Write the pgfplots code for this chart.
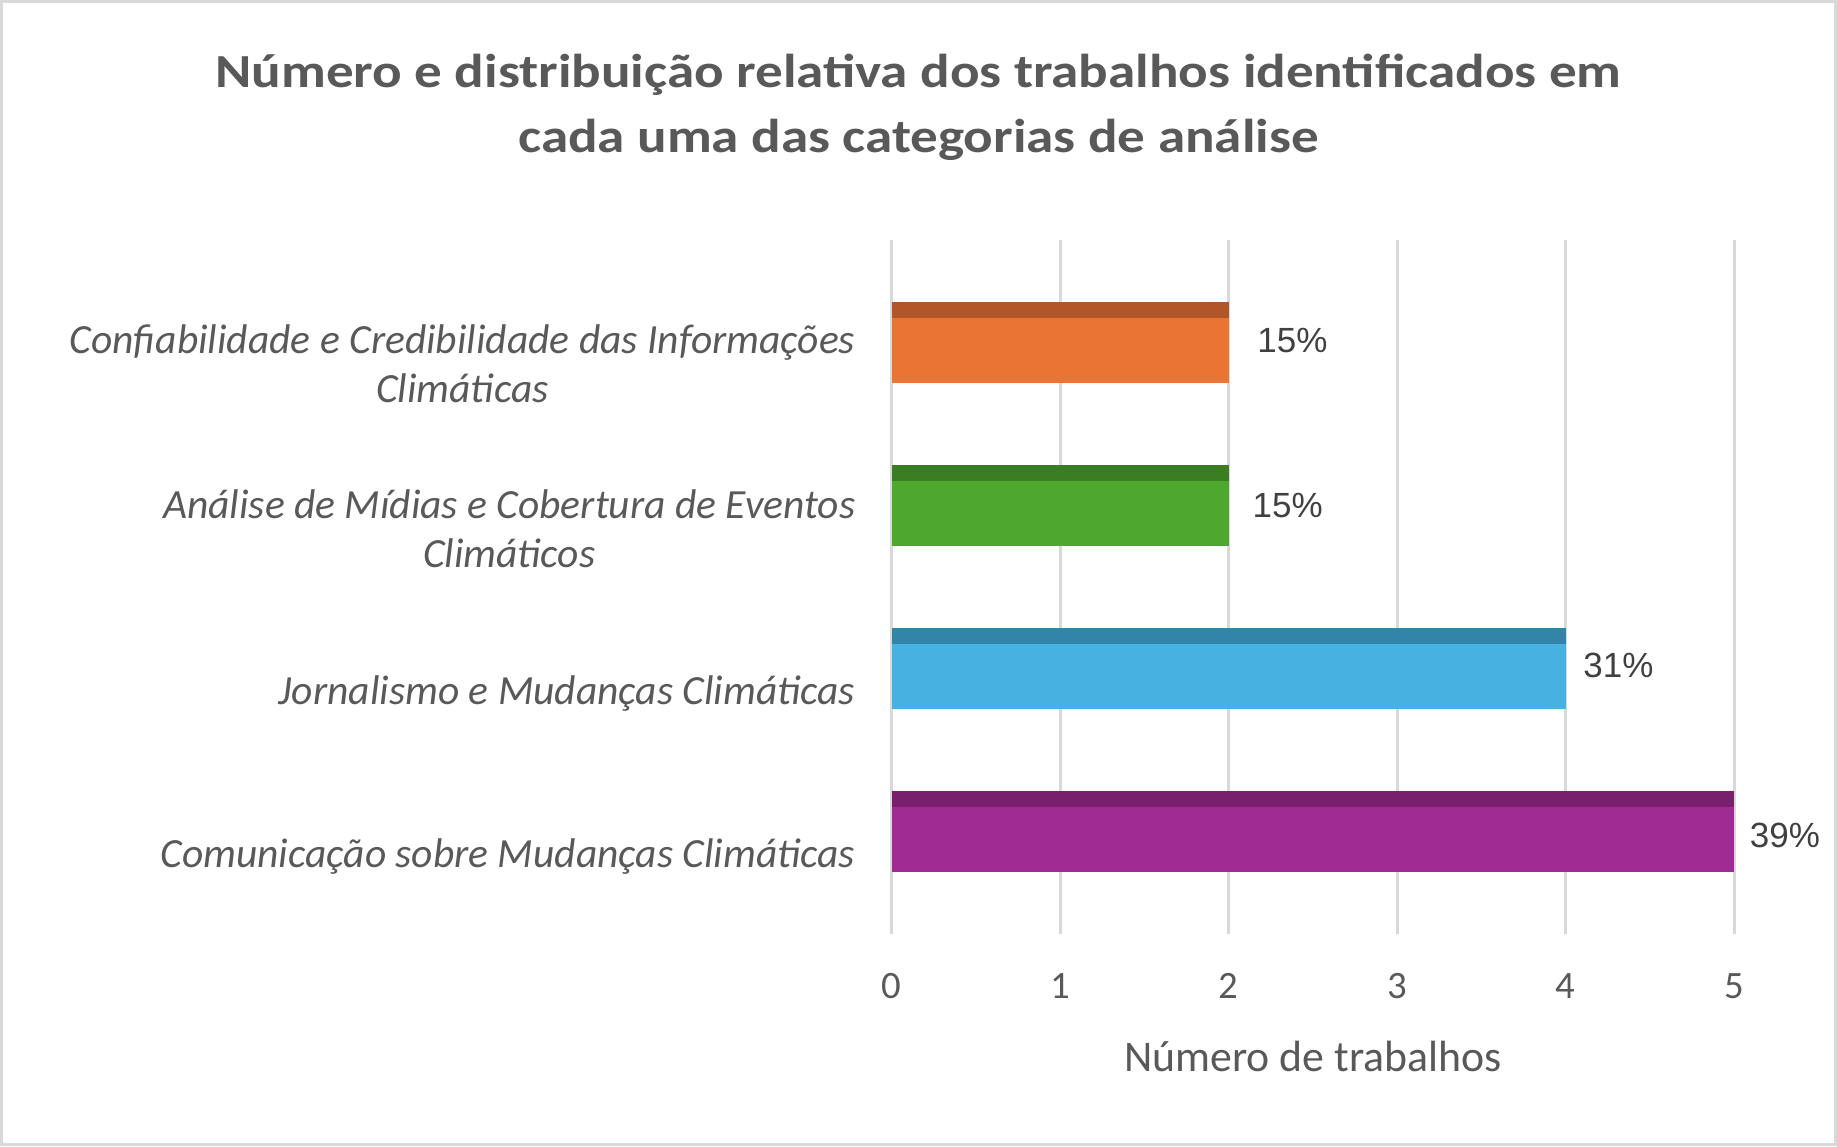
\documentclass[border=0pt]{standalone}
\usepackage{pgfplots}
\pgfplotsset{compat=1.18}
\usepackage{graphicx}
\usepackage{fontspec}
\setmainfont{Carlito}
\newfontfamily\arialf{Liberation Sans}
\definecolor{txt}{HTML}{595959}
\definecolor{lbl}{HTML}{404040}
\definecolor{gridc}{HTML}{D9D9D9}
\definecolor{orL}{HTML}{E97434}
\definecolor{orD}{HTML}{B05628}
\definecolor{grL}{HTML}{4EA72E}
\definecolor{grD}{HTML}{3B7D23}
\definecolor{blL}{HTML}{47B2E2}
\definecolor{blD}{HTML}{3384A9}
\definecolor{puL}{HTML}{A02B93}
\definecolor{puD}{HTML}{781F6E}
\begin{document}
\begin{tikzpicture}[x=1pt,y=1pt]
\useasboundingbox (0,0) rectangle (734.8,458.4);
\draw[gridc, line width=1.2pt] (0.6,0.6) rectangle (734.2,457.8);
\node[anchor=base, font=\fontsize{19}{22}\selectfont\bfseries, text=txt, inner sep=0pt] at (367.4,423.3) {\scalebox{1.16}[1]{Número e distribuição relativa dos trabalhos identificados em}};
\node[anchor=base, font=\fontsize{19}{22}\selectfont\bfseries, text=txt, inner sep=0pt] at (367.4,397.3) {\scalebox{1.16}[1]{cada uma das categorias de análise}};
\begin{axis}[
  at={(356.64pt,84.8pt)}, anchor=south west,
  scale only axis, width=337pt, height=277.6pt,
  xmin=0, xmax=5, ymin=-0.63, ymax=3.63,
  axis line style={draw=none},
  major tick length=0pt,
  xmajorgrids, grid style={gridc, line width=1.2pt},
  xtick={0,1,2,3,4,5},
  ytick={-0.155,0.845,1.86,2.87},
  yticklabels={{Comunicação sobre Mudanças Climáticas},{Jornalismo e Mudanças Climáticas},{Análise de Mídias e Cobertura de Eventos\\Climáticos},{Confiabilidade e Credibilidade das Informações\\Climáticas}},
  yticklabel style={align=center, anchor=east, font=\fontsize{16.6}{19.6}\selectfont\itshape, text=txt, xshift=-11pt},
  xticklabel style={anchor=center, yshift=-20.8pt, font=\fontsize{15.5}{18}\selectfont, text=txt},
  /pgf/number format/assume math mode=true,
  xlabel={Número de trabalhos},
  xlabel style={at={(axis description cs:0.5,0)}, anchor=center, yshift=-49pt, font=\fontsize{17.5}{20}\selectfont, text=txt},
  nodes near coords style={anchor=west, font=\arialf\fontsize{14}{16}\selectfont, text=lbl},
]
\addplot[xbar, bar width=0.5, bar shift=0, fill=puL, draw=none, nodes near coords={39\%}, nodes near coords style={xshift=2.8pt, yshift=-1.6pt}] coordinates {(5,0)};
\addplot[xbar, bar width=0.1, bar shift=0.2, fill=puD, draw=none] coordinates {(5,0)};
\addplot[xbar, bar width=0.5, bar shift=0, fill=blL, draw=none, nodes near coords={31\%}, nodes near coords style={xshift=3.6pt, yshift=1.2pt}] coordinates {(4,1)};
\addplot[xbar, bar width=0.1, bar shift=0.2, fill=blD, draw=none] coordinates {(4,1)};
\addplot[xbar, bar width=0.5, bar shift=0, fill=grL, draw=none, nodes near coords={15\%}, nodes near coords style={xshift=6.1pt}] coordinates {(2,2)};
\addplot[xbar, bar width=0.1, bar shift=0.2, fill=grD, draw=none] coordinates {(2,2)};
\addplot[xbar, bar width=0.5, bar shift=0, fill=orL, draw=none, nodes near coords={15\%}, nodes near coords style={xshift=8pt, yshift=0.8pt}] coordinates {(2,3)};
\addplot[xbar, bar width=0.1, bar shift=0.2, fill=orD, draw=none] coordinates {(2,3)};
\end{axis}
\end{tikzpicture}
\end{document}
